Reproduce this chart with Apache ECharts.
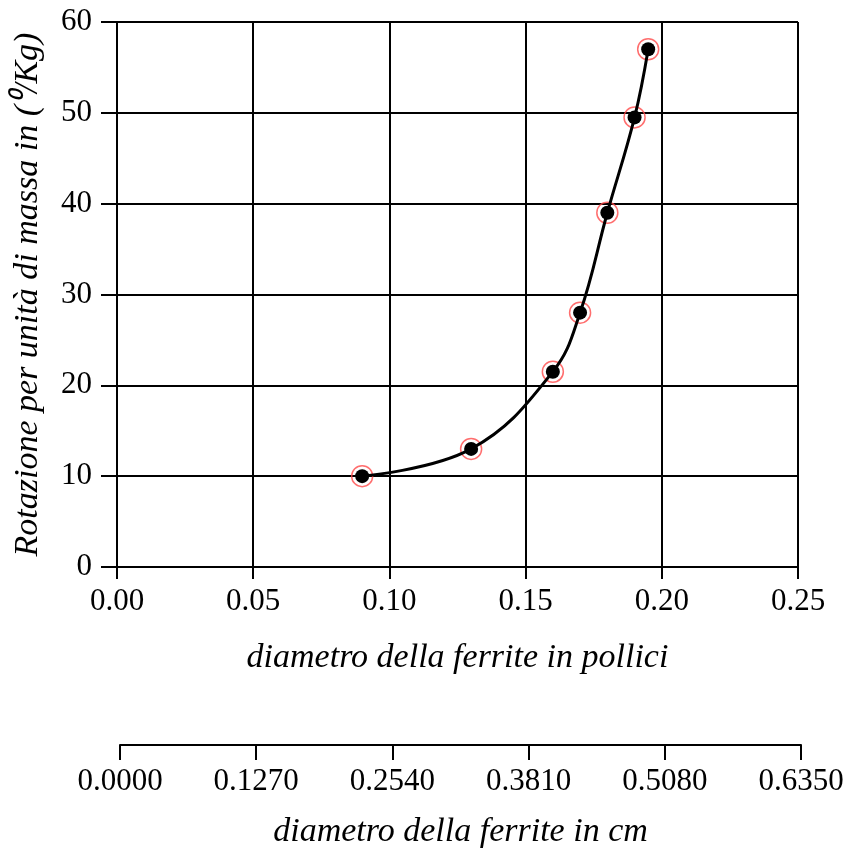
<!DOCTYPE html>
<html><head><meta charset="utf-8">
<script src="https://cdn.jsdelivr.net/npm/echarts@6/dist/echarts.min.js"></script>
<style>html,body{margin:0;padding:0;background:#fff}#c{width:848px;height:854px}</style>
</head><body><div id="c"></div>
<script>
const diamInches = [0.09, 0.13, 0.16, 0.17, 0.18, 0.19, 0.195];
const rotation = [10, 13, 21.5, 28, 39, 49.5, 57];
const cmTicks = ['0.0000','0.1270','0.2540','0.3810','0.5080','0.6350'];
const xTitle = 'diametro della ferrite in pollici';
const x2Title = 'diametro della ferrite in cm';
const yTitle = 'Rotazione per unità di massa in (⁰/Kg)';

const pts = diamInches.map((x,i)=>[x, rotation[i]]);
const F = 'Liberation Serif';
const chart = echarts.init(document.getElementById('c'));
chart.setOption({
  animation:false,
  grid:[
    {left:117, right:50, top:22, bottom:287},
    {left:120, right:47, top:744, height:1}
  ],
  xAxis:[
    {type:'value', min:0, max:0.25, interval:0.05, gridIndex:0,
     axisLine:{show:true, lineStyle:{color:'#000', width:2}},
     axisTick:{show:true, length:12, lineStyle:{color:'#000', width:2}},
     splitLine:{show:true, lineStyle:{color:'#000', width:2}},
     axisLabel:{color:'#000', fontFamily:F, fontSize:31, margin:19, formatter:v=>v.toFixed(2)},
     name:xTitle, nameLocation:'middle', nameGap:74,
     nameTextStyle:{color:'#000', fontFamily:F, fontStyle:'italic', fontSize:34}},
    {type:'value', min:0, max:0.635, interval:0.127, gridIndex:1,
     axisLine:{show:true, lineStyle:{color:'#000', width:2}},
     axisTick:{show:true, length:15, lineStyle:{color:'#000', width:2}},
     splitLine:{show:false},
     axisLabel:{color:'#000', fontFamily:F, fontSize:31, margin:21,
       formatter:(v)=>cmTicks[Math.round(v/0.127)]},
     name:x2Title, nameLocation:'middle', nameGap:70,
     nameTextStyle:{color:'#000', fontFamily:F, fontStyle:'italic', fontSize:34}}
  ],
  yAxis:[
    {type:'value', min:0, max:60, interval:10, gridIndex:0,
     axisLine:{show:true, lineStyle:{color:'#000', width:2}},
     axisTick:{show:true, length:16, lineStyle:{color:'#000', width:2}},
     splitLine:{show:true, lineStyle:{color:'#000', width:2}},
     axisLabel:{color:'#000', fontFamily:F, fontSize:31, margin:25},
     name:yTitle, nameLocation:'middle', nameGap:72, nameRotate:90,
     nameTextStyle:{color:'#000', fontFamily:F, fontStyle:'italic', fontSize:34}},
    {type:'value', gridIndex:1, show:false}
  ],
  series:[
    {type:'scatter', xAxisIndex:0, yAxisIndex:0, data:pts, symbol:'circle', symbolSize:21, z:2,
     itemStyle:{color:'rgba(0,0,0,0)', borderColor:'#ff4a4a', borderWidth:1.5}},
    {type:'line', xAxisIndex:0, yAxisIndex:0, data:pts, smooth:0.4, z:3,
     lineStyle:{color:'#000', width:3}, symbol:'circle', symbolSize:14, showSymbol:true,
     itemStyle:{color:'#000', borderWidth:0}}
  ]
});
</script></body></html>
